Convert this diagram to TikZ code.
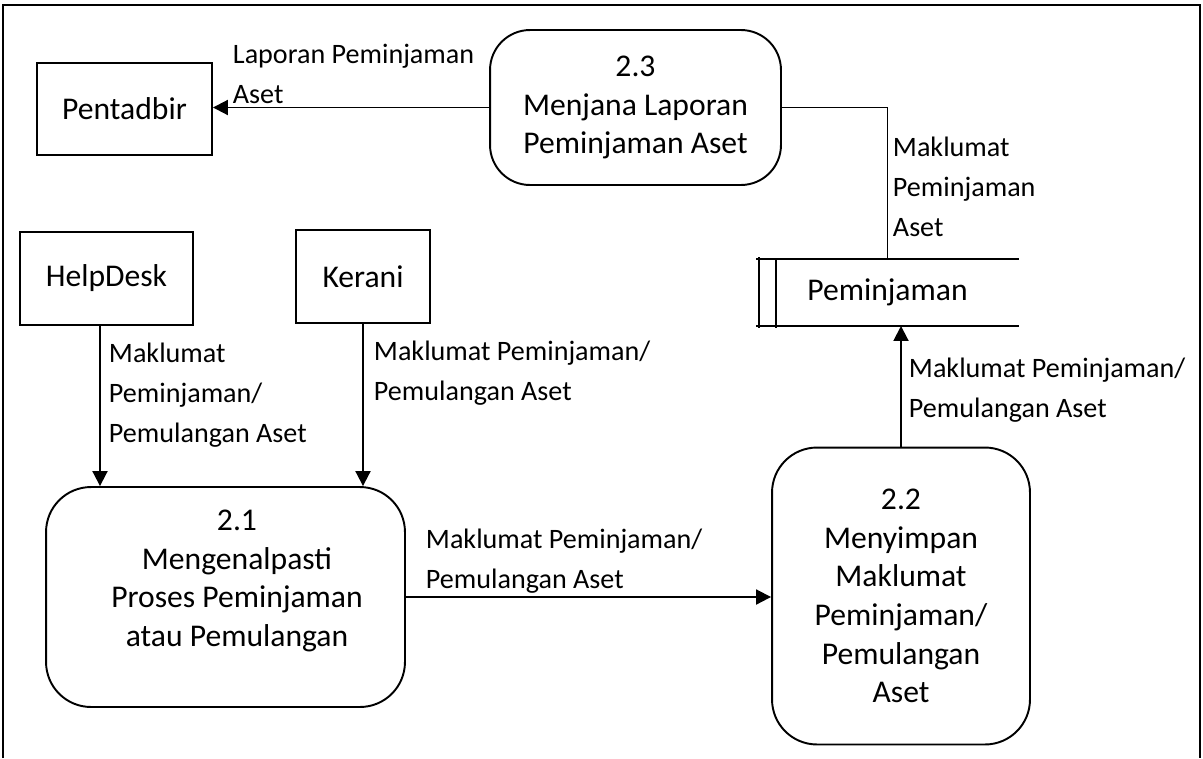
\documentclass[tikz,border=0pt]{standalone}
\usepackage{fontspec}
\setmainfont{Carlito}
\usetikzlibrary{arrows.meta}

\begin{document}
\begin{tikzpicture}[x=0.02cm, y=-0.02cm, line width=1.1pt,
    entity/.style={draw, align=center, font=\fontsize{18}{22}\selectfont},
    process/.style={draw, rounded corners=0.9cm, align=center, font=\fontsize{18}{22}\selectfont},
    proctext/.style={align=center, font=\fontsize{18}{22}\selectfont},
    flowtext/.style={anchor=west, inner sep=0pt, align=left, font=\fontsize{16}{22.8}\selectfont},
    flow/.style={-{Triangle[length=0.3cm, width=0.3cm]}}]
\useasboundingbox (0,0) rectangle (1203,758);
\draw (3,758) -- (3,5) -- (1200,5) -- (1200,758);

\node (pent) [entity, minimum width=3.5cm, minimum height=1.84cm] at (124.5,109) {Pentadbir};
\node (help) [entity, minimum width=3.46cm, minimum height=1.86cm] at (106.5,278.5) {HelpDesk};
\node (ker) [entity, minimum width=2.68cm, minimum height=1.86cm] at (363,276.5) {Kerani};

\node (p23) [process, minimum width=5.82cm, minimum height=3.1cm, rounded corners=0.8cm] at (635.5,107.5) {2.3\\Menjana Laporan\\Peminjaman Aset};
\node (p21) [process, minimum width=7.18cm, minimum height=4.4cm] at (225.5,597) {};
\node (p21t) [proctext] at (237,581) {2.1\\Mengenalpasti\\Proses Peminjaman\\atau Pemulangan};
\node (p22) [process, minimum width=5.16cm, minimum height=5.94cm] at (901,596) {2.2\\Menyimpan\\Maklumat\\Peminjaman/\\Pemulangan\\Aset};

\node (ds) [minimum width=5.22cm, minimum height=1.3cm, font=\fontsize{18}{22}\selectfont] at (887.5,292.5) {Peminjaman};
\draw (ds.north west) -- (ds.north east);
\draw (ds.south west) -- (ds.south east);
\draw ([xshift=0.06cm, yshift=0.04cm]ds.north west) -- ([xshift=0.06cm, yshift=-0.04cm]ds.south west);
\draw ([xshift=0.4cm]ds.north west) -- ([xshift=0.4cm, yshift=-0.04cm]ds.south west);

\draw [flow] (p23.west) -- (p23.west -| pent.east) node (lapor) [flowtext] at (232,74) {Laporan Peminjaman\\Aset};
\draw (p23.east) -| (ds.north) node (mds) [flowtext] at (892,187) {Maklumat\\Peminjaman\\Aset};
\draw [flow] ([xshift=-0.13cm]help.south) -- ([xshift=-0.13cm]help.south |- p21.north) node (mhelp) [flowtext] at (108,395) {Maklumat\\Peminjaman/\\Pemulangan Aset};
\draw [flow] (ker.south) -- (ker.south |- p21.north) node (mker) [flowtext] at (373,373) {Maklumat Peminjaman/\\Pemulangan Aset};
\draw [flow] (p21.east) -- (p21.east -| p22.west) node (m21) [flowtext] at (425,561) {Maklumat Peminjaman/\\Pemulangan Aset};
\draw [flow] (p22.north) -- (p22.north |- ds.south) node (m22) [flowtext] at (908,390) {Maklumat Peminjaman/\\Pemulangan Aset};
\end{tikzpicture}
\end{document}
